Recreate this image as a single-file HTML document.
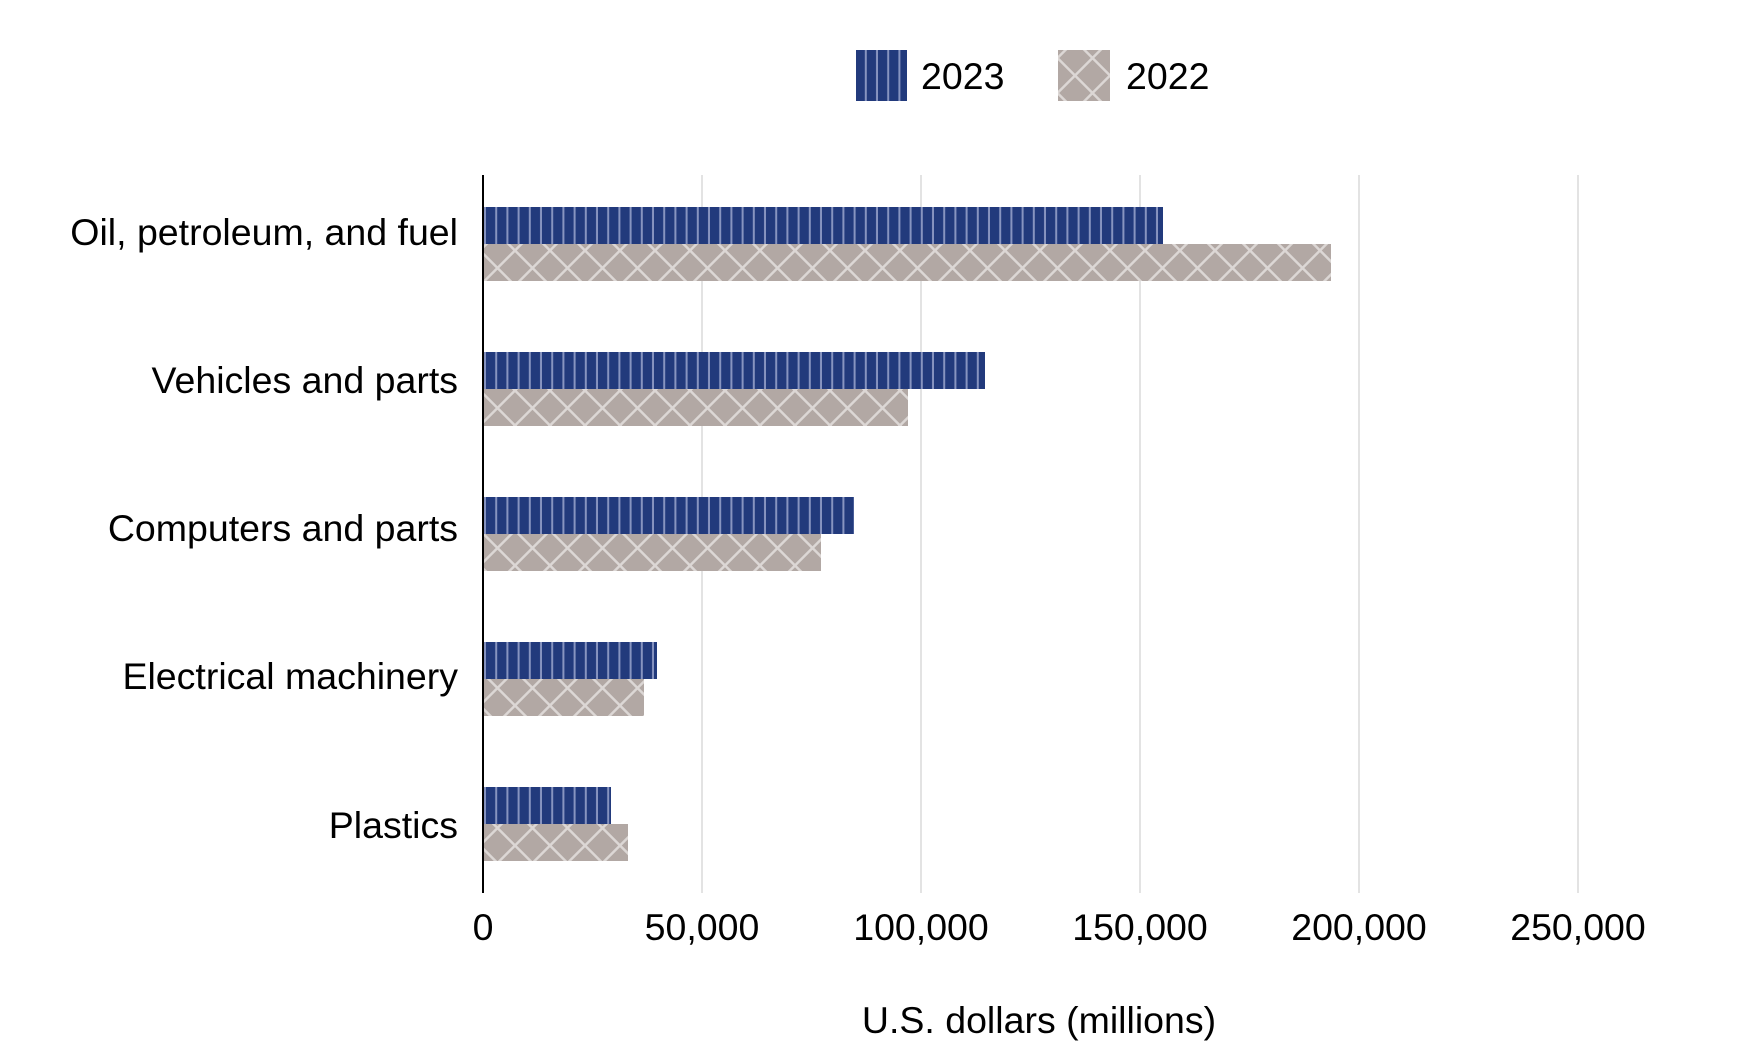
<!DOCTYPE html>
<html><head><meta charset="utf-8"><style>
html,body{margin:0;padding:0;background:#fff;}
svg{display:block;}
text{font-family:"Liberation Sans",Arial,sans-serif;fill:#000;}
</style></head><body>
<svg width="1746" height="1058" viewBox="0 0 1746 1058" xmlns="http://www.w3.org/2000/svg">
<defs>
<pattern id="vs" patternUnits="userSpaceOnUse" width="11.2" height="40" x="486" y="0">
<rect width="11.2" height="40" fill="#223a7c"/>
<rect x="9.2" width="2" height="40" fill="#8794c0"/>
</pattern>
<pattern id="xh" patternUnits="userSpaceOnUse" width="35" height="35" x="480" y="250.5">
<rect width="35" height="35" fill="#b2a8a4"/>
<path d="M0,0 L35,35 M35,0 L0,35 M-5,30 L5,40 M30,-5 L40,5 M-5,5 L5,-5 M30,40 L40,30" stroke="#dcd7d5" stroke-width="2.5"/>
</pattern>
</defs>
<g stroke="#e3e3e3" stroke-width="2">
<line x1="702" y1="175" x2="702" y2="893"/>
<line x1="921" y1="175" x2="921" y2="893"/>
<line x1="1140" y1="175" x2="1140" y2="893"/>
<line x1="1359" y1="175" x2="1359" y2="893"/>
<line x1="1578" y1="175" x2="1578" y2="893"/>
</g>
<rect x="484" y="207" width="679" height="37" fill="url(#vs)"/>
<rect x="484" y="244" width="847" height="37" fill="url(#xh)"/>
<rect x="484" y="352" width="501" height="37" fill="url(#vs)"/>
<rect x="484" y="389" width="424" height="37" fill="url(#xh)"/>
<rect x="484" y="497" width="370" height="37" fill="url(#vs)"/>
<rect x="484" y="534" width="337" height="37" fill="url(#xh)"/>
<rect x="484" y="642" width="173" height="37" fill="url(#vs)"/>
<rect x="484" y="679" width="160" height="37" fill="url(#xh)"/>
<rect x="484" y="787" width="127" height="37" fill="url(#vs)"/>
<rect x="484" y="824" width="144" height="37" fill="url(#xh)"/>
<line x1="483" y1="175" x2="483" y2="893" stroke="#000" stroke-width="2"/>
<g font-size="37.5" text-anchor="end">
<text x="458" y="245">Oil, petroleum, and fuel</text>
<text x="458" y="393">Vehicles and parts</text>
<text x="458" y="541">Computers and parts</text>
<text x="458" y="689">Electrical machinery</text>
<text x="458" y="838">Plastics</text>
</g>
<g font-size="37.5" text-anchor="middle">
<text x="483" y="940">0</text>
<text x="702" y="940">50,000</text>
<text x="921" y="940">100,000</text>
<text x="1140" y="940">150,000</text>
<text x="1359" y="940">200,000</text>
<text x="1578" y="940">250,000</text>
<text x="1039" y="1033">U.S. dollars (millions)</text>
</g>
<rect x="856" y="50" width="51" height="51" fill="url(#vs)"/>
<text x="921" y="89" font-size="37.5">2023</text>
<rect x="1058" y="50" width="52" height="51" fill="url(#xh)"/>
<text x="1126" y="89" font-size="37.5">2022</text>
</svg>
</body></html>
